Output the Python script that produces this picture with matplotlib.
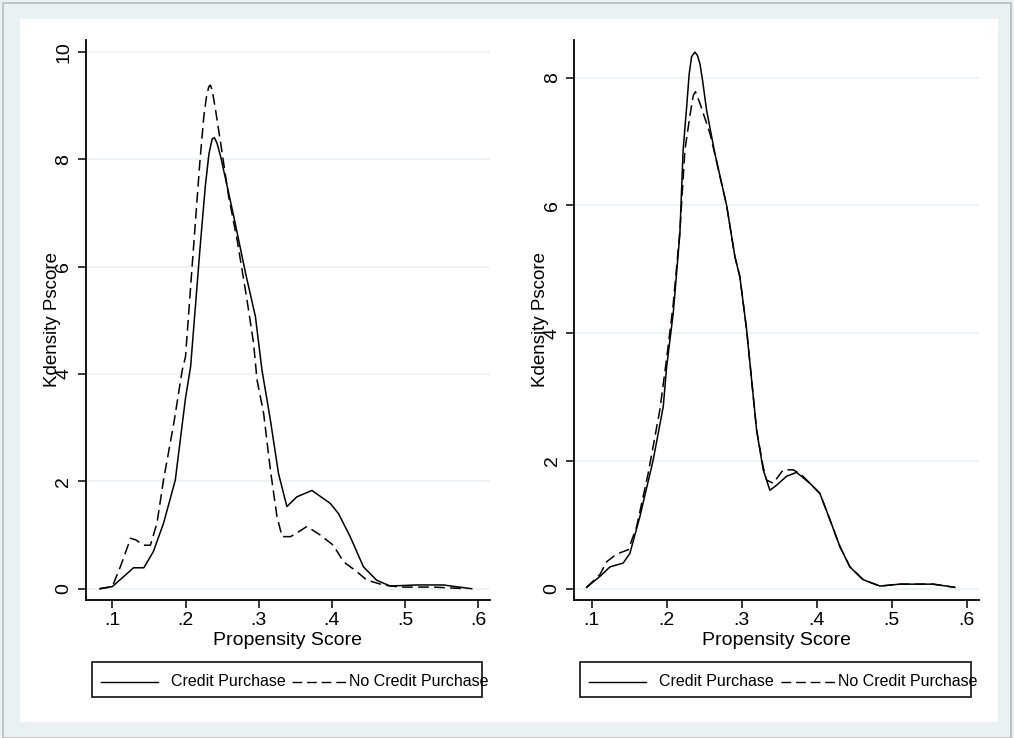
import matplotlib
matplotlib.use("Agg")
import matplotlib.pyplot as plt
from matplotlib.patches import Rectangle
from matplotlib.lines import Line2D

plt.rcParams['font.family'] = ['Liberation Sans', 'DejaVu Sans']

series_names = ['Credit Purchase', 'No Credit Purchase']
x_ticks = [0.1, 0.2, 0.3, 0.4, 0.5, 0.6]
x_tick_labels = ['.1', '.2', '.3', '.4', '.5', '.6']

# before matching: kernel density of the propensity score
before_credit_x = [0.084, 0.100, 0.115, 0.129, 0.143, 0.156, 0.170, 0.186, 0.200, 0.207,
                   0.220, 0.227, 0.232, 0.2365, 0.2395, 0.243, 0.248, 0.266, 0.282, 0.2955,
                   0.3045, 0.316, 0.327, 0.3385, 0.352, 0.3727, 0.3977, 0.409, 0.425, 0.443,
                   0.461, 0.4795, 0.516, 0.552, 0.591]
before_credit_y = [0.00, 0.04, 0.22, 0.39, 0.39, 0.69, 1.22, 2.02, 3.55, 4.14,
                   6.37, 7.49, 8.10, 8.38, 8.40, 8.30, 8.05, 6.93, 5.88, 5.07,
                   4.07, 3.14, 2.15, 1.53, 1.71, 1.83, 1.59, 1.40, 0.97, 0.41,
                   0.16, 0.05, 0.07, 0.07, 0.00]
before_nocredit_x = [0.082, 0.100, 0.111, 0.125, 0.132, 0.143, 0.152, 0.161, 0.170, 0.184,
                     0.1955, 0.200, 0.209, 0.2195, 0.225, 0.2285, 0.2318, 0.234, 0.2364, 0.241,
                     0.248, 0.259, 0.2705, 0.284, 0.293, 0.2977, 0.3067, 0.316, 0.325, 0.332,
                     0.3436, 0.3545, 0.366, 0.384, 0.402, 0.416, 0.434, 0.4477, 0.4704, 0.493,
                     0.5386, 0.584]
before_nocredit_y = [0.00, 0.04, 0.41, 0.94, 0.91, 0.81, 0.81, 1.22, 2.03, 3.08,
                     4.07, 4.32, 6.00, 7.93, 8.79, 9.15, 9.35, 9.38, 9.29, 8.92,
                     8.30, 7.30, 6.50, 5.38, 4.57, 3.89, 3.27, 2.21, 1.34, 0.97,
                     0.97, 1.06, 1.16, 1.00, 0.81, 0.50, 0.32, 0.16, 0.07, 0.03,
                     0.03, 0.00]

# after matching
after_credit_x = [0.0933, 0.111, 0.1244, 0.142, 0.151, 0.1644, 0.182, 0.1955, 0.200, 0.2088,
                  0.2177, 0.222, 0.2267, 0.230, 0.2333, 0.2377, 0.241, 0.2444, 0.248, 0.2533,
                  0.2644, 0.280, 0.291, 0.2977, 0.3067, 0.3133, 0.320, 0.3288, 0.3377, 0.3467,
                  0.360, 0.3733, 0.391, 0.4044, 0.4177, 0.431, 0.4444, 0.462, 0.4844, 0.511,
                  0.5555, 0.5844]
after_credit_y = [0.02, 0.19, 0.34, 0.40, 0.55, 1.13, 2.01, 2.85, 3.47, 4.31,
                  5.56, 6.87, 7.54, 8.05, 8.33, 8.40, 8.35, 8.22, 7.95, 7.49,
                  6.81, 6.00, 5.20, 4.88, 4.05, 3.27, 2.48, 1.86, 1.54, 1.62,
                  1.76, 1.82, 1.65, 1.49, 1.08, 0.66, 0.34, 0.14, 0.04, 0.07,
                  0.07, 0.02]
after_nocredit_x = [0.0933, 0.111, 0.120, 0.133, 0.149, 0.160, 0.1755, 0.191, 0.200, 0.2088,
                    0.2177, 0.2244, 0.231, 0.2355, 0.2385, 0.2444, 0.2577, 0.2644, 0.280, 0.291,
                    0.2977, 0.3067, 0.3133, 0.320, 0.3288, 0.3333, 0.3420, 0.3555, 0.369, 0.380,
                    0.391, 0.4044, 0.4177, 0.431, 0.4444, 0.462, 0.4844, 0.511, 0.5555, 0.5844]
after_nocredit_y = [0.02, 0.22, 0.42, 0.54, 0.61, 0.97, 1.81, 2.80, 3.60, 4.45,
                    5.60, 6.87, 7.40, 7.72, 7.78, 7.60, 7.13, 6.80, 6.00, 5.20,
                    4.88, 4.05, 3.27, 2.48, 1.90, 1.70, 1.65, 1.86, 1.86, 1.78,
                    1.65, 1.49, 1.08, 0.66, 0.34, 0.14, 0.04, 0.07, 0.07, 0.02]

left_y_ticks = [0, 2, 4, 6, 8, 10]
right_y_ticks = [0, 2, 4, 6, 8]

bg = '#e9f1f3'
grid_col = '#eef4f4'
dash = (0, (7, 3.5))

fig = plt.figure(figsize=(10.14, 7.38), dpi=100)
fig.patch.set_facecolor(bg)
# outer frame and white plot region
fig.add_artist(Rectangle((3 / 1014, 0), 1008 / 1014, 735 / 738, transform=fig.transFigure,
                         facecolor='none', edgecolor='#b8bcbf', lw=1.2))
fig.add_artist(Rectangle((20 / 1014, 1 - 722 / 738), 978 / 1014, 703 / 738,
                         transform=fig.transFigure, facecolor='white', edgecolor='none', zorder=0))

panels = [
    dict(rect=[0.0845, 0.187, 0.3987, 0.7588], xlim=(0.0636, 0.616), ylim=(-0.21, 10.22),
         yticks=left_y_ticks, data=[(before_credit_x, before_credit_y),
                                    (before_nocredit_x, before_nocredit_y)]),
    dict(rect=[0.566, 0.187, 0.3994, 0.7588], xlim=(0.0764, 0.6164), ylim=(-0.178, 8.59),
         yticks=right_y_ticks, data=[(after_credit_x, after_credit_y),
                                     (after_nocredit_x, after_nocredit_y)]),
]

for p in panels:
    ax = fig.add_axes(p['rect'])
    ax.set_facecolor('white')
    (cx, cy), (nx, ny) = p['data']
    ax.plot(cx, cy, color='black', lw=1.1, solid_joinstyle='round', zorder=3)
    ax.plot(nx, ny, color='black', lw=1.1, linestyle=dash, zorder=3)

    ax.set_xlim(*p['xlim'])
    ax.set_ylim(*p['ylim'])
    ax.set_xticks(x_ticks)
    ax.set_xticklabels(x_tick_labels)
    ax.set_yticks(p['yticks'])
    ax.set_yticklabels([str(t) for t in p['yticks']], rotation=90, va='center')
    for t in p['yticks']:
        ax.axhline(t, color=grid_col, lw=1.5, zorder=1)

    for s in ['top', 'right']:
        ax.spines[s].set_visible(False)
    for s in ['left', 'bottom']:
        ax.spines[s].set_linewidth(1.3)
    ax.tick_params(axis='both', direction='out', length=5.5, width=1.1, labelsize=14,
                   colors='black')
    ax.tick_params(axis='x', pad=3)
    ax.tick_params(axis='y', pad=4)

    ax.set_xlabel('Propensity Score', fontsize=14)
    ax.xaxis.set_label_coords(0.5, -0.072)
    ax.xaxis.label.set_va('center')
    ax.set_ylabel('Kdensity Pscore', fontsize=13.5)
    ax.yaxis.set_label_coords(-0.082, 0.5)
    ax.yaxis.label.set_va('center')

    # legend box below the axis
    ax.add_patch(Rectangle((0.0156, -0.173), 0.965, 0.063, transform=ax.transAxes,
                           facecolor='white', edgecolor='#222222', lw=1.3, clip_on=False))
    ly = -0.146
    ax.add_line(Line2D([0.037, 0.179], [ly, ly], transform=ax.transAxes, color='black',
                       lw=1.0, clip_on=False))
    ax.text(0.21, ly, series_names[0], transform=ax.transAxes, fontsize=11.5,
            va='center', ha='left')
    ax.add_line(Line2D([0.511, 0.652], [ly, ly], transform=ax.transAxes, color='black',
                       lw=1.0, linestyle=dash, clip_on=False))
    ax.text(0.652, ly, series_names[1], transform=ax.transAxes, fontsize=11.5,
            va='center', ha='left')

fig.savefig('out.png', dpi=100, facecolor=fig.get_facecolor())
